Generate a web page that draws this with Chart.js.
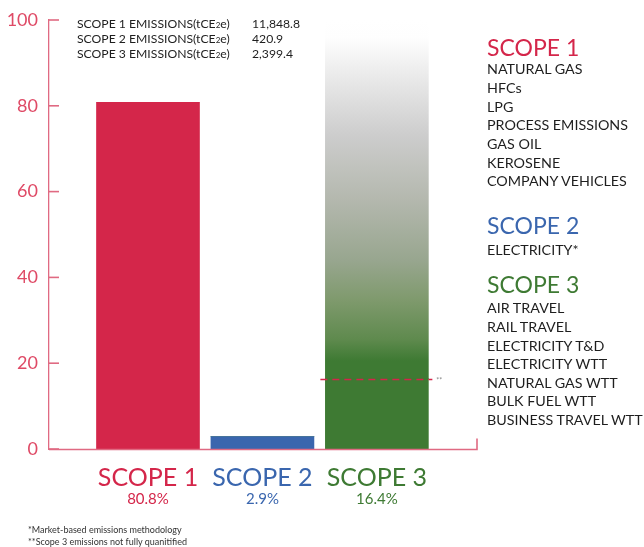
<!DOCTYPE html>
<html lang="en">
<head>
    <meta charset="UTF-8">
    <title>Emissions by Scope</title>
    <script src="https://cdn.jsdelivr.net/npm/chart.js@4.4.0/dist/chart.umd.min.js"></script>
    <style>
        body {
            margin: 0;
            background-color: white;
            font-family: "Lato", sans-serif;
        }

        #wrap {
            position: relative;
            width: 644px;
            height: 547px;
            overflow: hidden;
        }

        #chart {
            position: absolute;
            left: 0;
            top: 0;
        }

        .t {
            position: absolute;
            white-space: nowrap;
            line-height: 1;
            color: #1e1e1e;
        }

        .head { font-size: 23px; }
        .item { font-size: 14.3px; }
        .row { font-size: 12.2px; }
        .note { font-size: 9px; color: #333; }
        .sub { font-size: 8px; }
    </style>
</head>
<body>
<div id="wrap">
    <canvas id="chart" width="644" height="547"></canvas>
</div>

<script>
    // chart data
    const categories = ['SCOPE 1', 'SCOPE 2', 'SCOPE 3'];
    const shares = [80.8, 2.9, 16.4];
    const unquantified = [0, 0, 83.6];
    const shareLabels = ['80.8%', '2.9%', '16.4%'];
    const yTicks = [0, 20, 40, 60, 80, 100];

    const emissionRows = ['SCOPE 1 EMISSIONS', 'SCOPE 2 EMISSIONS', 'SCOPE 3 EMISSIONS'];
    const emissionValues = ['11,848.8', '420.9', '2,399.4'];

    const scope1Sources = ['NATURAL GAS', 'HFCs', 'LPG', 'PROCESS EMISSIONS', 'GAS OIL', 'KEROSENE', 'COMPANY VEHICLES'];
    const scope2Sources = ['ELECTRICITY*'];
    const scope3Sources = ['AIR TRAVEL', 'RAIL TRAVEL', 'ELECTRICITY T&D', 'ELECTRICITY WTT', 'NATURAL GAS WTT', 'BULK FUEL WTT', 'BUSINESS TRAVEL WTT'];

    const footnotes = ['*Market-based emissions methodology', '**Scope 3 emissions not fully quanitified'];

    const colors = ['#d4264a', '#3a66ae', '#3e7a33'];
    const axisPink = '#e06a82';

    // text overlays
    const wrap = document.getElementById('wrap');
    function addText(html, cls, x, capCenter, size, color) {
        const d = document.createElement('div');
        d.className = 't ' + cls;
        d.innerHTML = html;
        d.style.left = x + 'px';
        d.style.top = (capCenter - 0.527 * size) + 'px';
        if (color) d.style.color = color;
        wrap.appendChild(d);
    }

    emissionRows.forEach((r, i) => {
        addText(r + '(tCE<span class="sub">2</span>e)', 'row', 77, 24 + i * 15.3, 12.2);
        addText(emissionValues[i], 'row', 252, 24 + i * 15.3, 12.2);
    });

    addText(categories[0], 'head', 487, 48, 23, colors[0]);
    scope1Sources.forEach((s, i) => addText(s.replace('&', '&amp;'), 'item', 487, 70 + i * 18.65, 14.3));
    addText(categories[1], 'head', 487, 226, 23, colors[1]);
    scope2Sources.forEach((s, i) => addText(s, 'item', 487, 251 + i * 18.65, 14.3));
    addText(categories[2], 'head', 487, 285, 23, colors[2]);
    scope3Sources.forEach((s, i) => addText(s.replace('&', '&amp;'), 'item', 487, 309 + i * 18.6, 14.3));

    footnotes.forEach((f, i) => addText(f, 'note', 28, 530 + i * 12, 9));

    // green bar fades out above the quantified part
    function fadeFill(ctx) {
        const chart = ctx.chart;
        if (!chart.chartArea) return '#aaaaaa';
        const y = chart.scales.y;
        const top = y.getPixelForValue(shares[2] + unquantified[2]);
        const bot = y.getPixelForValue(shares[2]);
        const g = chart.ctx.createLinearGradient(0, top, 0, bot);
        g.addColorStop(0, '#ffffff');
        g.addColorStop(0.05, '#fefefe');
        g.addColorStop(0.13, '#efefef');
        g.addColorStop(0.32, '#cdcdcd');
        g.addColorStop(0.50, '#b4b8ae');
        g.addColorStop(0.67, '#98a68f');
        g.addColorStop(0.78, '#7f9a6d');
        g.addColorStop(0.89, '#5f8a4e');
        g.addColorStop(0.95, colors[2]);
        g.addColorStop(1, colors[2]);
        return g;
    }

    const decorations = {
        id: 'decorations',
        afterDraw(chart) {
            const ctx = chart.ctx;
            const area = chart.chartArea;
            const x = chart.scales.x;
            const y = chart.scales.y;
            ctx.save();
            ctx.setLineDash([]);

            // inward tick marks
            ctx.strokeStyle = axisPink;
            ctx.lineWidth = 1.6;
            y.ticks.forEach((t, i) => {
                const py = y.getPixelForTick(i);
                ctx.beginPath();
                ctx.moveTo(area.left - 0.5, py);
                ctx.lineTo(area.left + 10, py);
                ctx.stroke();
            });

            // x axis with end tick
            const by = Math.round(y.getPixelForValue(0)) + 0.5;
            ctx.lineWidth = 1.6;
            ctx.beginPath();
            ctx.moveTo(area.left, by);
            ctx.lineTo(area.right, by);
            ctx.lineTo(area.right, by - 11);
            ctx.stroke();

            // dashed line at the quantified scope 3 level
            const bar = chart.getDatasetMeta(0).data[2];
            const dy = Math.round(y.getPixelForValue(shares[2])) + 0.5;
            const x0 = bar.x - bar.width / 2 - 5;
            const x1 = bar.x + bar.width / 2 + 4;
            ctx.strokeStyle = colors[0];
            ctx.lineWidth = 1.5;
            ctx.setLineDash([7, 5]);
            ctx.beginPath();
            ctx.moveTo(x0, dy);
            ctx.lineTo(x1, dy);
            ctx.stroke();
            ctx.setLineDash([]);
            ctx.fillStyle = '#888';
            ctx.font = '7px Lato';
            ctx.textBaseline = 'middle';
            ctx.fillText('**', x1 + 4, dy + 1);

            // category labels
            ctx.textAlign = 'center';
            ctx.textBaseline = 'alphabetic';
            categories.forEach((c, i) => {
                const cx = x.getPixelForValue(i);
                ctx.fillStyle = colors[i];
                ctx.font = '25px Lato';
                ctx.fillText(c, cx, 486);
                ctx.font = '15px Lato';
                ctx.fillText(shareLabels[i], cx, 504);
            });
            ctx.restore();
        }
    };

    const chart = new Chart(document.getElementById('chart'), {
        type: 'bar',
        data: {
            datasets: [{
                label: 'Quantified',
                data: categories.map((c, i) => ({x: i, y: shares[i]})),
                backgroundColor: colors,
                barThickness: 103
            }, {
                label: 'Not fully quantified',
                data: categories.map((c, i) => ({x: i, y: unquantified[i]})),
                backgroundColor: fadeFill,
                barThickness: 103
            }]
        },
        options: {
            responsive: false,
            animation: false,
            layout: {
                padding: {top: 20, right: 167, bottom: 98, left: 0}
            },
            plugins: {
                legend: {display: false},
                tooltip: {enabled: false}
            },
            scales: {
                x: {
                    type: 'linear',
                    min: -0.865,
                    max: 2.875,
                    offset: false,
                    stacked: true,
                    display: false
                },
                y: {
                    stacked: true,
                    min: 0,
                    max: 100,
                    afterFit: s => { s.width = 49; },
                    afterBuildTicks: s => { s.ticks = yTicks.map(v => ({value: v})); },
                    ticks: {
                        color: '#df4a66',
                        padding: 3,
                        font: {family: 'Lato', size: 18, weight: 400}
                    },
                    grid: {display: false},
                    border: {color: axisPink, width: 1.3}
                }
            }
        },
        plugins: [decorations]
    });
</script>
</body>
</html>
